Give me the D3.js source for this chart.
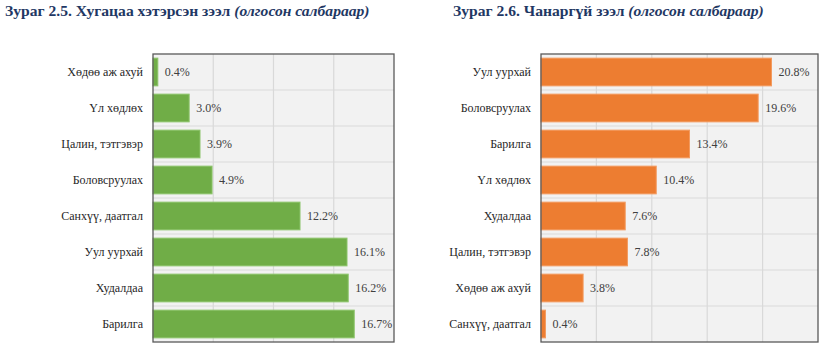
<!DOCTYPE html>
<html>
<head>
<meta charset="utf-8">
<script src="https://cdnjs.cloudflare.com/ajax/libs/d3/7.8.5/d3.min.js"></script>
<style>
	body { margin: 0; background: #fff; }
	svg { display: block; }
</style>
</head>
<body>
<div id="chart"></div>
<script>
// Left chart: overdue loans by sector
var overdueCategories = ['Хөдөө аж ахуй', 'Үл хөдлөх', 'Цалин, тэтгэвэр', 'Боловсруулах', 'Санхүү, даатгал', 'Уул уурхай', 'Худалдаа', 'Барилга'];
var overdueValues = [0.4, 3.0, 3.9, 4.9, 12.2, 16.1, 16.2, 16.7];
var overdueTicks = [0, 5, 10, 15, 20];

// Right chart: non-performing loans by sector
var npCategories = ['Уул уурхай', 'Боловсруулах', 'Барилга', 'Үл хөдлөх', 'Худалдаа', 'Цалин, тэтгэвэр', 'Хөдөө аж ахуй', 'Санхүү, даатгал'];
var npValues = [20.8, 19.6, 13.4, 10.4, 7.6, 7.8, 3.8, 0.4];
var npTicks = [0, 5, 10, 15, 20, 25];

var FONT = 'Liberation Serif';

var svg = d3.select('#chart')
	.append('svg')
	.attr('width', 825)
	.attr('height', 352)
	.attr('font-family', FONT);

function addTitle(x, main, sub) {
	var t = svg.append('text')
		.attr('x', x)
		.attr('y', 16)
		.attr('font-family', FONT)
		.attr('font-size', 15.6)
		.attr('font-weight', 'bold')
		.attr('fill', '#1f3864');
	t.append('tspan').text(main + ' ');
	t.append('tspan').attr('font-style', 'italic').text(sub);
}

function barChart(opts) {
	var g = svg.append('g')
		.attr('transform', 'translate(' + opts.left + ',' + opts.top + ')');

	var x = d3.scaleLinear().domain([0, d3.max(opts.ticks)]).range([0, opts.width]);
	var y = d3.scaleBand().domain(opts.categories).range([0, opts.height]).paddingInner(0.23).paddingOuter(0.115);

	g.append('rect')
		.attr('width', opts.width)
		.attr('height', opts.height)
		.attr('fill', '#f2f2f2');

	// vertical grid
	g.selectAll('.vgrid')
		.data(opts.ticks.slice(1, -1))
		.enter().append('line')
		.attr('x1', function(d) { return x(d); })
		.attr('x2', function(d) { return x(d); })
		.attr('y1', 0)
		.attr('y2', opts.height)
		.attr('stroke', '#d9d9d9')
		.attr('stroke-width', 1.2);

	// horizontal grid between categories
	g.selectAll('.hgrid')
		.data(opts.categories.slice(1))
		.enter().append('line')
		.attr('x1', 0)
		.attr('x2', opts.width)
		.attr('y1', function(d) { return y(d) - y.step() * y.paddingInner() / 2; })
		.attr('y2', function(d) { return y(d) - y.step() * y.paddingInner() / 2; })
		.attr('stroke', '#d9d9d9')
		.attr('stroke-width', 1.2);

	g.selectAll('.bar')
		.data(opts.values)
		.enter().append('rect')
		.attr('x', 0)
		.attr('y', function(d, i) { return y(opts.categories[i]); })
		.attr('width', function(d) { return x(d); })
		.attr('height', y.bandwidth())
		.attr('fill', opts.color)
		.attr('stroke', opts.edge)
		.attr('stroke-width', 1);

	g.selectAll('.val')
		.data(opts.values)
		.enter().append('text')
		.attr('x', function(d) { return x(d) + 7; })
		.attr('y', function(d, i) { return y(opts.categories[i]) + y.bandwidth() / 2; })
		.attr('dy', '0.35em')
		.attr('font-family', FONT)
		.attr('font-size', 12)
		.attr('fill', '#404040')
		.text(function(d) { return d.toFixed(1) + '%'; });

	var yAxis = g.append('g').call(d3.axisLeft(y).tickSize(0).tickPadding(10));
	yAxis.attr('font-family', FONT).attr('font-size', 12);
	yAxis.select('.domain').remove();
	yAxis.selectAll('text').attr('fill', '#262626');

	g.append('rect')
		.attr('width', opts.width)
		.attr('height', opts.height)
		.attr('fill', 'none')
		.attr('stroke', '#595959')
		.attr('stroke-width', 1.3);
}

addTitle(5, 'Зураг 2.5. Хугацаа хэтэрсэн зээл', '(олгосон салбараар)');
addTitle(453, 'Зураг 2.6. Чанаргүй зээл', '(олгосон салбараар)');

barChart({
	left: 153, top: 54, width: 241, height: 288,
	categories: overdueCategories, values: overdueValues, ticks: overdueTicks,
	color: '#70ad47', edge: '#8cc46a'
});

barChart({
	left: 541, top: 54, width: 277, height: 288,
	categories: npCategories, values: npValues, ticks: npTicks,
	color: '#ed7d31', edge: '#f39a5e'
});
</script>
</body>
</html>
